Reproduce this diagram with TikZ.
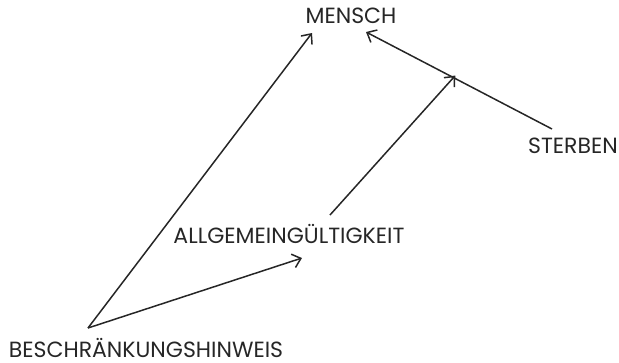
\documentclass[tikz,border=0pt]{standalone}
\usepackage{fontspec}
\setmainfont{Poppins}
\usetikzlibrary{arrows.meta}
\tikzset{
  lbl/.style={anchor=base, inner sep=0pt, font=\fontsize{22}{22}\selectfont, text=black!85},
  conn/.style={line width=1.5pt, draw=black!85, -{Straight Barb[length=8pt,width=14pt,line width=1.5pt]}}
}
\begin{document}
\begin{tikzpicture}[x=1pt,y=-1pt]
\useasboundingbox (0,0) rectangle (619,362);
\node[lbl] (mensch) at (351,23) {MENSCH};
\node[lbl] (sterben) at (573,153) {STERBEN};
\node[lbl] (allg) at (289,243) {ALLGEMEINGÜLTIGKEIT};
\node[lbl] (besch) at (146,357.5) {BESCHRÄNKUNGSHINWEIS};
\coordinate (b) at (88,328);
\coordinate (mL) at (312,33);
\coordinate (mR) at (366,32);
\coordinate (aT) at (302,258);
\coordinate (aTop) at (330,215);
\coordinate (s) at (552,129);
\path (s) -- (mR) coordinate[pos=0.52] (j);
\draw[conn] (b) -- (mL);
\draw[conn] (b) -- (aT);
\draw[conn] (s) -- (mR);
\draw[conn] (aTop) -- ([yshift=3pt]j);
\end{tikzpicture}
\end{document}
